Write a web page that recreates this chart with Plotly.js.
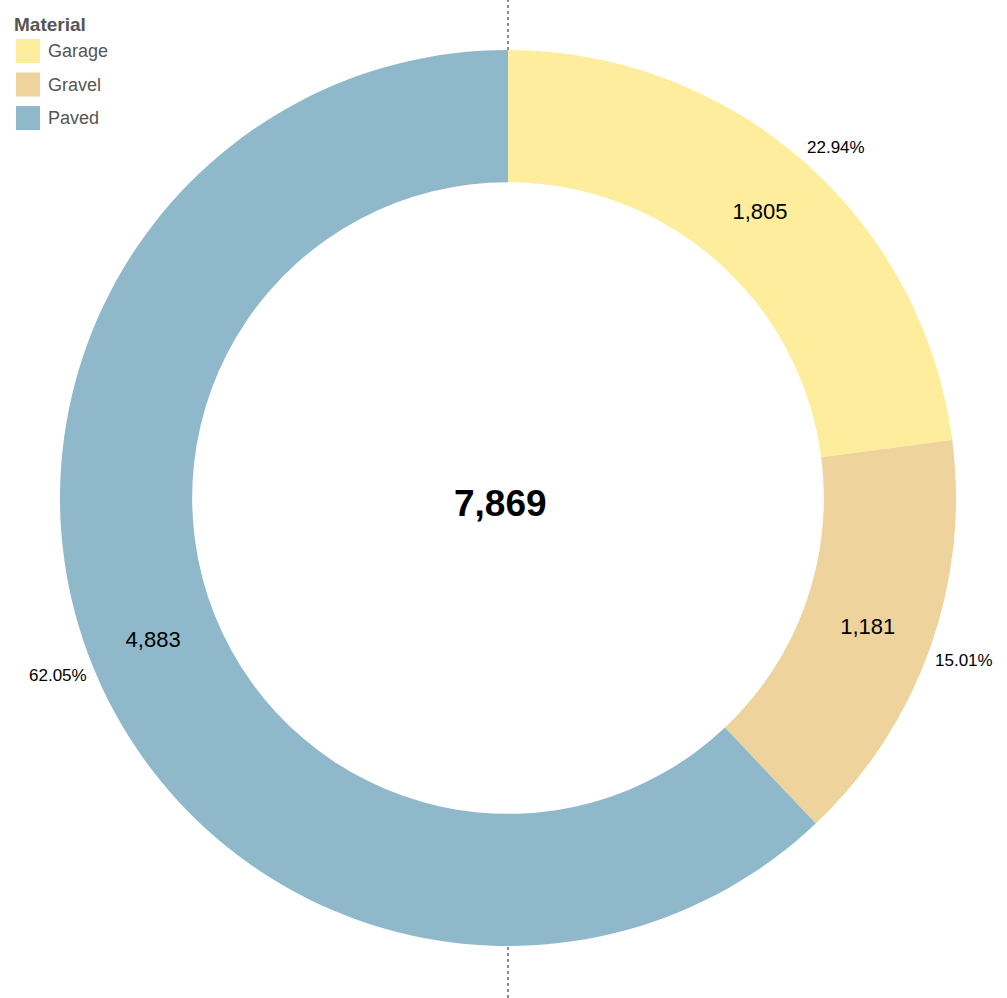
<!DOCTYPE html>
<html>
<head>
<meta charset="utf-8">
<script src="https://cdn.plot.ly/plotly-3.0.1.min.js"></script>
<style>html,body{margin:0;padding:0;background:#fff;}#chart{width:1007px;height:998px;}</style>
</head>
<body>
<div id="chart"></div>
<script>
const labels = ["Garage", "Gravel", "Paved"];
const values = [1805, 1181, 4883];
const colors = ["#FEED9C", "#EED39C", "#8FB9CB"];
const legendTitle = "Material";

const W = 1007, H = 998;
const cx = 508, cy = 500; // from bottom
const R = 448;
const font = "Liberation Sans, Arial, sans-serif";

const total = values.reduce((a, b) => a + b, 0);

const annotations = [];
const shapes = [];

// center total
annotations.push({
  x: 500 / W, y: 495 / H, xref: "paper", yref: "paper",
  text: "<b>" + total.toLocaleString("en-US") + "</b>",
  showarrow: false, font: {family: font, size: 37, color: "#000"},
  xanchor: "center", yanchor: "middle"
});

// percent labels outside ring
let cum = 0;
values.forEach((v, i) => {
  const mid = (cum + v / 2) / total * 2 * Math.PI;
  cum += v;
  const r = 452;
  const s = Math.sin(mid), c = Math.cos(mid);
  annotations.push({
    x: (cx + r * s) / W, y: (cy + r * c) / H, xref: "paper", yref: "paper",
    text: (v / total * 100).toFixed(2) + "%",
    showarrow: false, font: {family: font, size: 17, color: "#000"},
    xanchor: s >= 0 ? "left" : "right",
    yanchor: c >= 0 ? "bottom" : "top",
    borderpad: 0
  });
});

// custom legend
annotations.push({
  x: 12 / W, y: 1 - 24 / H, xref: "paper", yref: "paper",
  text: "<b>" + legendTitle + "</b>", showarrow: false,
  font: {family: font, size: 19, color: "#555"},
  xanchor: "left", yanchor: "middle"
});
labels.forEach((lab, i) => {
  const top = 39 + i * 33.5;
  shapes.push({
    type: "rect", xref: "paper", yref: "paper",
    x0: 16 / W, x1: 40 / W, y0: 1 - (top + 24) / H, y1: 1 - top / H,
    fillcolor: colors[i], line: {width: 0}
  });
  annotations.push({
    x: 46 / W, y: 1 - (top + 12) / H, xref: "paper", yref: "paper",
    text: lab, showarrow: false,
    font: {family: font, size: 18, color: "#555"},
    xanchor: "left", yanchor: "middle"
  });
});

// dotted vertical guide line (outside the ring only)
const lineStyle = {color: "#666", width: 1.5, dash: "dot"};
shapes.push({type: "line", xref: "paper", yref: "paper",
  x0: cx / W, x1: cx / W, y0: (cy + R) / H, y1: 1, line: lineStyle});
shapes.push({type: "line", xref: "paper", yref: "paper",
  x0: cx / W, x1: cx / W, y0: 0, y1: (cy - R) / H, line: lineStyle});

const trace = {
  type: "pie",
  labels: labels,
  values: values,
  marker: {colors: colors, line: {width: 0}},
  hole: 0.705,
  sort: false,
  direction: "clockwise",
  rotation: 0,
  textinfo: "value",
  texttemplate: "%{value:,}",
  textposition: "inside",
  insidetextorientation: "horizontal",
  insidetextfont: {family: font, size: 22, color: "#000"},
  domain: {x: [(cx - R) / W, (cx + R) / W], y: [(cy - R) / H, (cy + R) / H]},
  showlegend: false,
  hoverinfo: "label+value+percent"
};

const layout = {
  width: W, height: H,
  margin: {l: 0, r: 0, t: 0, b: 0},
  paper_bgcolor: "#fff",
  plot_bgcolor: "#fff",
  showlegend: false,
  font: {family: font},
  annotations: annotations,
  shapes: shapes
};

Plotly.newPlot("chart", [trace], layout, {displayModeBar: false, staticPlot: true});
</script>
</body>
</html>
